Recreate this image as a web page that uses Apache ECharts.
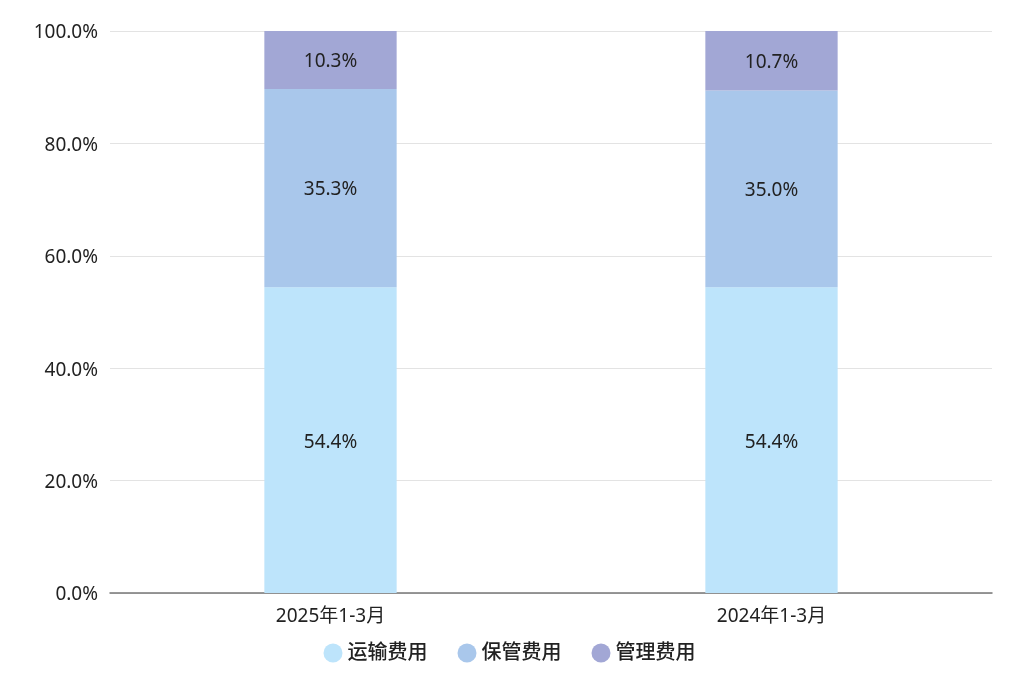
<!DOCTYPE html>
<html><head><meta charset="utf-8">
<script src="https://cdn.jsdelivr.net/npm/echarts@6/dist/echarts.min.js"></script>
<style>html,body{margin:0;padding:0;background:#fff}#c{width:1019px;height:684px}</style>
</head><body><div id="c"></div>
<script>
const categories = ['2025年1-3月', '2024年1-3月'];
const seriesNames = ['运输费用', '保管费用', '管理费用'];
const transport = [54.4, 54.4];
const storage = [35.3, 35.0];
const management = [10.3, 10.7];
const colors = ['#bde4fb', '#a9c7eb', '#a2a7d5'];
const font = '"Noto Sans", "Noto Sans CJK SC", sans-serif';
const dataSets = [transport, storage, management];
const chart = echarts.init(document.getElementById('c'));
chart.setOption({
  animation: false,
  textStyle: { fontFamily: font },
  grid: { left: 110, right: 27, top: 31, bottom: 91, containLabel: false },
  legend: {
    bottom: 16, left: 'center', icon: 'circle', itemWidth: 19, itemHeight: 19, itemGap: 30,
    textStyle: { fontSize: 20, color: '#222', fontFamily: font, fontWeight: 500, padding: [3, 0, 0, 0] },
    data: seriesNames
  },
  xAxis: {
    type: 'category', data: categories,
    axisLine: { lineStyle: { color: '#777', width: 1.5 } },
    axisTick: { alignWithLabel: true, lineStyle: { color: '#777' }, length: 5 },
    axisLabel: { fontSize: 19, color: '#222', margin: 11, fontFamily: font, padding: [3, 0, 0, 0] }
  },
  yAxis: {
    type: 'value', min: 0, max: 100, interval: 20,
    axisLine: { show: false }, axisTick: { show: false },
    splitLine: { lineStyle: { color: '#e3e3e3', width: 1 } },
    axisLabel: { fontSize: 19, color: '#222', margin: 12, fontFamily: font,
      formatter: v => '{v|' + v.toFixed(1) + '%}',
      rich: { v: { fontSize: 19, color: '#222', fontFamily: font, padding: [4, 0, 0, 0] } } }
  },
  series: dataSets.map((d, i) => ({
    name: seriesNames[i], type: 'bar', stack: 'total', barWidth: '30%',
    data: d,
    itemStyle: { color: colors[i] },
    label: { show: true, position: 'inside', offset: [0, 2], fontSize: 19, color: '#222', fontFamily: font,
      formatter: p => p.value.toFixed(1) + '%' }
  }))
});
</script></body></html>
